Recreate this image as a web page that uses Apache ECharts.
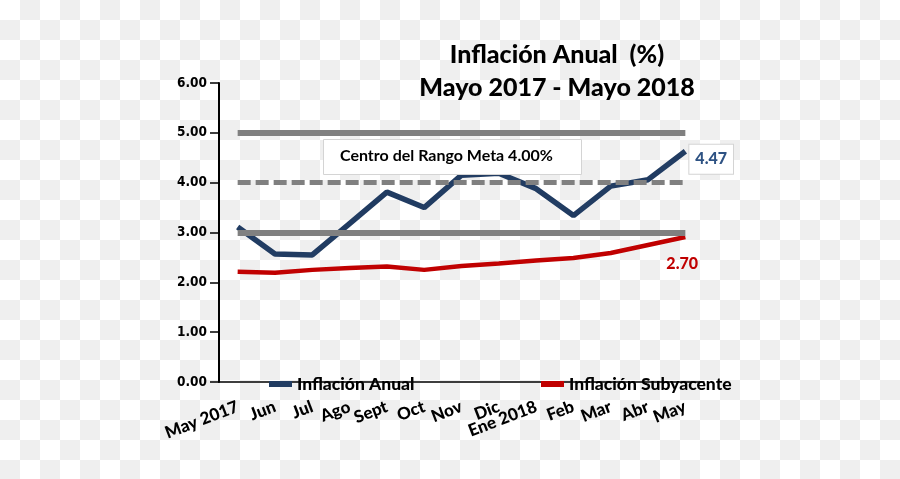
<!DOCTYPE html>
<html>
<head>
<meta charset="utf-8">
<script src="https://cdn.jsdelivr.net/npm/echarts@6/dist/echarts.min.js"></script>
<style>
html,body{margin:0;padding:0;}
body{width:900px;height:479px;background:repeating-conic-gradient(#efefef 0 25%, #ffffff 0 50%) 0 0/40px 40px;}
#chart{width:900px;height:479px;}
</style>
</head>
<body>
<div id="chart"></div>
<script>
const categories = ['May 2017','Jun','Jul','Ago','Sept','Oct','Nov','Dic','Ene 2018','Feb','Mar','Abr','May'];
const inflacionAnual = [3.11, 2.57, 2.55, 3.18, 3.81, 3.50, 4.15, 4.19, 3.88, 3.34, 3.93, 4.06, 4.63];
const inflacionSubyacente = [2.21, 2.19, 2.25, 2.29, 2.32, 2.25, 2.33, 2.38, 2.44, 2.49, 2.59, 2.75, 2.91];
const rangoSuperior = 5.00;
const rangoCentro = 4.00;
const rangoInferior = 3.00;
const endLabels = ['4.47', '2.70'];
const yTicks = [0, 1, 2, 3, 4, 5, 6];
const titleText = 'Inflación Anual  (%)\nMayo 2017 - Mayo 2018';
const boxText = 'Centro del Rango Meta 4.00%';

const chart = echarts.init(document.getElementById('chart'), null, {renderer: 'canvas'});
const first = categories[0], last = categories[categories.length - 1];
const heavy = {fontFamily: 'Lato', fontWeight: 900, color: '#000'};
const option = {
  backgroundColor: 'transparent',
  animation: false,
  title: {
    text: titleText,
    left: 552, top: 33, textAlign: 'center',
    textStyle: Object.assign({}, heavy, {fontSize: 25, lineHeight: 33})
  },
  grid: {left: 219, right: 196, top: 83, bottom: 97, containLabel: false},
  legend: [
    {data: ['Inflación Anual'], left: 269, top: 374, padding: 0, icon: 'rect', itemWidth: 23, itemHeight: 6,
     textStyle: Object.assign({}, heavy, {fontSize: 17.5, lineHeight: 20})},
    {data: ['Inflación Subyacente'], left: 541, top: 374, padding: 0, icon: 'rect', itemWidth: 23, itemHeight: 6,
     textStyle: Object.assign({}, heavy, {fontSize: 17.5, lineHeight: 20})}
  ],
  xAxis: {
    type: 'category', data: categories, boundaryGap: true,
    axisLine: {lineStyle: {color: '#000', width: 1.5}},
    axisTick: {show: false},
    axisLabel: Object.assign({interval: 0, rotate: 21, margin: 24, fontSize: 17}, heavy),
    splitLine: {show: false}
  },
  yAxis: {
    type: 'value', min: yTicks[0], max: yTicks[yTicks.length - 1], interval: 1,
    axisLine: {show: true, lineStyle: {color: '#000', width: 2}},
    axisTick: {show: true, inside: false, length: 9, lineStyle: {color: '#000', width: 1.5}},
    axisLabel: {margin: 12, fontFamily: 'DejaVu Sans Condensed, DejaVu Sans', fontWeight: 'bold', fontSize: 13.5, color: '#000',
      formatter: v => v.toFixed(2)},
    splitLine: {show: false}
  },
  graphic: [
    {type: 'rect', left: 323, top: 139, shape: {width: 258, height: 35}, style: {fill: '#fff', stroke: '#d4d4d4', lineWidth: 1}, z: 10},
    {type: 'text', left: 340, top: 148, style: {text: boxText, fontFamily: 'Lato', fontWeight: 'bold', fontSize: 16, fill: '#000'}, z: 11}
  ],
  series: [
    {
      name: 'Inflación Anual', type: 'line', data: inflacionAnual,
      showSymbol: false, color: '#213C62',
      lineStyle: {color: '#213C62', width: 5.5},
      endLabel: {show: true, formatter: () => endLabels[0], distance: 4, offset: [0, 8],
        backgroundColor: '#fff', borderColor: '#d4d4d4', borderWidth: 1, padding: [7, 6, 6, 6],
        fontFamily: 'Lato', fontWeight: 900, fontSize: 16, color: '#2E5283'},
      z: 3
    },
    {
      name: 'Inflación Subyacente', type: 'line', data: inflacionSubyacente,
      showSymbol: false, color: '#C00000',
      lineStyle: {color: '#C00000', width: 4.5},
      endLabel: {show: true, formatter: () => endLabels[1], distance: 0, offset: [-19, 27],
        fontFamily: 'Lato', fontWeight: 900, fontSize: 16, color: '#C00000'},
      markLine: {
        silent: true, symbol: ['none', 'none'], label: {show: false},
        data: [
          [{coord: [first, rangoSuperior], lineStyle: {color: '#808080', width: 6, type: 'solid'}}, {coord: [last, rangoSuperior]}],
          [{coord: [first, rangoCentro], lineStyle: {color: '#808080', width: 5, type: [13, 5]}}, {coord: [last, rangoCentro]}],
          [{coord: [first, rangoInferior], lineStyle: {color: '#808080', width: 6, type: 'solid'}}, {coord: [last, rangoInferior]}]
        ]
      },
      z: 2
    }
  ]
};
chart.setOption(option);
</script>
</body>
</html>
